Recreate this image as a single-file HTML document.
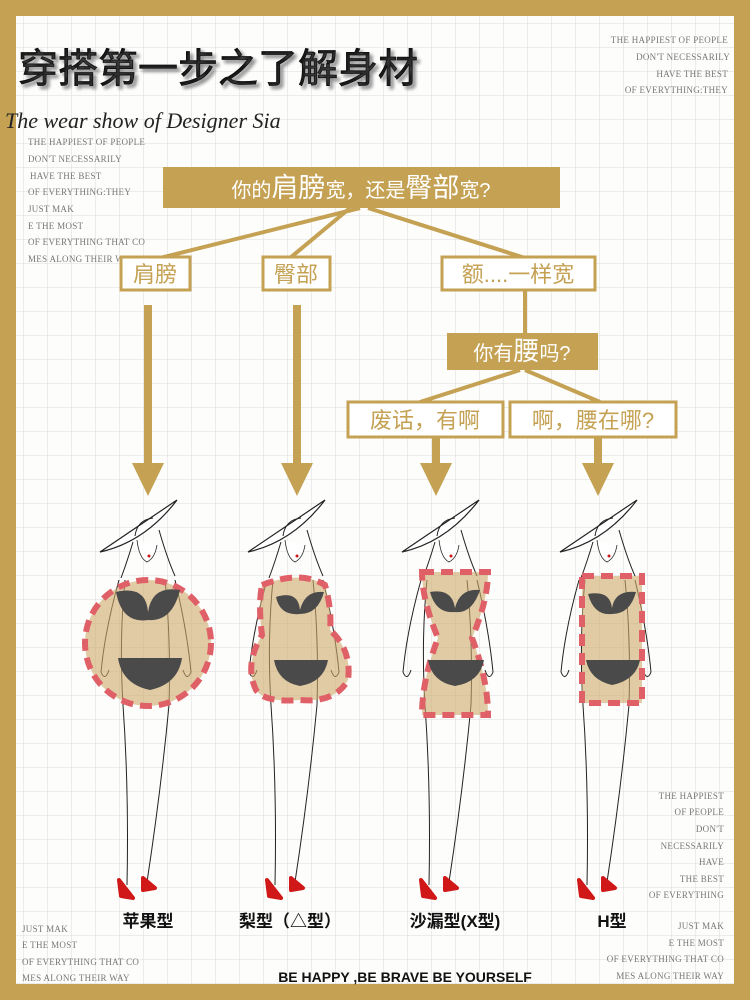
<!DOCTYPE html>
<html><head><meta charset="utf-8"><style>
html,body{margin:0;padding:0;width:750px;height:1000px;overflow:hidden;background:#c4a153}
svg{display:block}
.t{font-family:"Liberation Sans","Noto Sans CJK SC",sans-serif}
.s{font-family:"Liberation Serif",serif;fill:#777;font-size:9px;letter-spacing:0.3px}
</style></head><body>
<svg width="750" height="1000" viewBox="0 0 750 1000" xmlns="http://www.w3.org/2000/svg">
<defs>
<pattern id="g" width="24" height="24" patternUnits="userSpaceOnUse">
<path d="M24 0V24M0 24H24" stroke="#dcdcdc" stroke-width="1" fill="none"/>
</pattern>
<g id="fig">
<path d="M-45 52 Q-5 25 32 0 Q0 42 -45 52 Z" fill="#fff" stroke="#222" stroke-width="1.2"/>
<path d="M-10 36 Q-8 20 8 18" stroke="#222" fill="none" stroke-width="1"/>
<path d="M-8 40 Q-6 58 2 62 Q10 58 12 45" stroke="#222" fill="#fff" stroke-width="0.8"/>
<circle cx="4" cy="56" r="1.5" fill="#d01818"/>
<path d="M-12 42 Q-18 62 -24 78 M14 30 Q22 58 30 76" stroke="#222" fill="none" stroke-width="1"/>
<path d="M-26 80 Q-40 130 -44 172 Q-40 182 -36 170 M30 80 Q42 130 46 172 Q42 182 38 170" stroke="#222" fill="none" stroke-width="1"/>
<path d="M-20 80 Q-26 140 -22 205 Q-16 290 -18 385 M20 80 Q26 140 24 205 Q16 290 2 382" stroke="#222" fill="none" stroke-width="1"/>
<path d="M-26 380 L-12 398 L-24 396 Z M-2 378 L10 388 L-2 390 Z" fill="#d01818" stroke="#d01818" stroke-width="4" stroke-linejoin="round"/>
</g>
</defs>
<rect x="16" y="16" width="718" height="968" fill="#fdfdfc"/>
<rect x="16" y="16" width="718" height="968" fill="url(#g)"/>
<text x="18" y="82" class="t" font-size="40" fill="#111" stroke="#111" stroke-width="0.8" style="text-shadow:3px 3px 3px #888">穿搭第一步之了解身材</text>
<text x="5" y="128" font-family="Liberation Serif,serif" font-style="italic" font-size="22" fill="#222">The wear show of Designer Sia</text>
<g class="s" text-anchor="end">
<text x="728" y="43">THE HAPPIEST OF PEOPLE</text><text x="730" y="60">DON'T NECESSARILY</text><text x="728" y="77">HAVE THE BEST</text><text x="728" y="93">OF EVERYTHING:THEY</text>
<text x="724" y="799">THE HAPPIEST</text><text x="724" y="815">OF PEOPLE</text><text x="724" y="832">DON'T</text><text x="724" y="849">NECESSARILY</text><text x="724" y="865">HAVE</text><text x="724" y="882">THE BEST</text><text x="724" y="898">OF EVERYTHING</text>
<text x="724" y="929">JUST MAK</text><text x="724" y="946">E THE MOST</text><text x="724" y="962">OF EVERYTHING THAT CO</text><text x="724" y="979">MES ALONG THEIR WAY</text>
</g>
<g class="s">
<text x="28" y="145">THE HAPPIEST OF PEOPLE</text><text x="28" y="162">DON'T NECESSARILY</text><text x="30" y="179">HAVE THE BEST</text><text x="28" y="195">OF EVERYTHING:THEY</text><text x="28" y="212">JUST MAK</text><text x="28" y="229">E THE MOST</text><text x="28" y="245">OF EVERYTHING THAT CO</text><text x="28" y="262">MES ALONG THEIR WAY</text>
<text x="22" y="932">JUST MAK</text><text x="22" y="948">E THE MOST</text><text x="22" y="965">OF EVERYTHING THAT CO</text><text x="22" y="981">MES ALONG THEIR WAY</text>
</g>
<g stroke="#c4a153" stroke-width="4" fill="none">
<line x1="360" y1="208" x2="160" y2="258"/><line x1="350" y1="208" x2="290" y2="258"/><line x1="368" y1="208" x2="525" y2="258"/>
<line x1="525" y1="290" x2="525" y2="334"/>
<line x1="520" y1="370" x2="420" y2="402"/><line x1="525" y1="370" x2="600" y2="402"/>
</g>
<rect x="163" y="167" width="397" height="41" fill="#c4a153"/>
<text x="361" y="197" class="t" font-size="20" fill="#fff" text-anchor="middle">你的<tspan font-size="27">肩膀</tspan>宽，还是<tspan font-size="27">臀部</tspan>宽?</text>
<g fill="#fff" stroke="#c4a153" stroke-width="3">
<rect x="121" y="257" width="69" height="33"/><rect x="263" y="257" width="67" height="33"/><rect x="442" y="257" width="153" height="33"/>
<rect x="348" y="402" width="155" height="35"/><rect x="510" y="402" width="166" height="35"/>
</g>
<g class="t" fill="#c4a153" font-size="22" text-anchor="middle">
<text x="155" y="282">肩膀</text><text x="296" y="282">臀部</text><text x="518" y="282">额....一样宽</text>
<text x="425" y="428">废话，有啊</text><text x="593" y="428">啊，腰在哪?</text>
</g>
<rect x="447" y="333" width="151" height="37" fill="#c4a153"/>
<text x="522" y="360" class="t" font-size="20" fill="#fff" text-anchor="middle">你有<tspan font-size="26">腰</tspan>吗?</text>
<g fill="#c4a153">
<rect x="144" y="305" width="8" height="160"/><path d="M132 463 H164 L148 496 Z"/>
<rect x="293" y="305" width="8" height="160"/><path d="M281 463 H313 L297 496 Z"/>
<rect x="432" y="438" width="8" height="27"/><path d="M420 463 H452 L436 496 Z"/>
<rect x="594" y="438" width="8" height="27"/><path d="M582 463 H614 L598 496 Z"/>
</g>
<use href="#fig" x="145" y="500"/><use href="#fig" x="293" y="500"/><use href="#fig" x="447" y="500"/><use href="#fig" x="605" y="500"/>
<g fill="rgba(205,170,105,0.6)" stroke="#e06068" stroke-width="6" stroke-dasharray="12 7">
<circle cx="148" cy="643" r="63"/>
<path d="M262 585 Q300 570 325 585 Q332 610 330 630 Q352 650 348 680 Q335 703 300 700 Q265 703 256 690 Q244 665 262 635 Q258 605 262 585 Z"/>
<path d="M422 572 L488 572 Q488 600 472 638 Q488 680 488 715 L422 715 Q422 680 438 638 Q422 600 422 572 Z"/>
<rect x="582" y="576" width="60" height="127"/>
</g>
<g fill="#4a4a4a">
<path d="M116 592 Q146 585 148 612 Q152 585 180 590 Q172 622 148 620 Q122 624 116 592 Z"/>
<path d="M118 658 H182 Q178 684 150 690 Q122 684 118 658 Z"/>
<path d="M276 597 Q298 590 300 610 Q305 590 324 592 Q318 614 300 614 Q280 616 276 597 Z"/>
<path d="M274 660 H328 Q324 682 300 686 Q278 682 274 660 Z"/>
<path d="M430 592 Q452 588 455 608 Q460 588 480 590 Q472 614 455 612 Q436 614 430 592 Z"/>
<path d="M428 660 H484 Q480 682 455 686 Q432 682 428 660 Z"/>
<path d="M588 594 Q610 590 612 608 Q615 590 636 592 Q630 614 612 614 Q594 616 588 594 Z"/>
<path d="M586 660 H640 Q636 680 612 685 Q590 680 586 660 Z"/>
</g>
<g class="t" font-size="17" fill="#111" font-weight="bold" text-anchor="middle">
<text x="148" y="927">苹果型</text><text x="290" y="927">梨型（△型）</text><text x="455" y="927">沙漏型(X型)</text><text x="612" y="927">H型</text>
</g>
<text x="405" y="982" font-family="Liberation Sans,sans-serif" font-weight="bold" font-size="14" fill="#111" text-anchor="middle">BE HAPPY ,BE BRAVE BE YOURSELF</text>
</svg>
</body></html>
